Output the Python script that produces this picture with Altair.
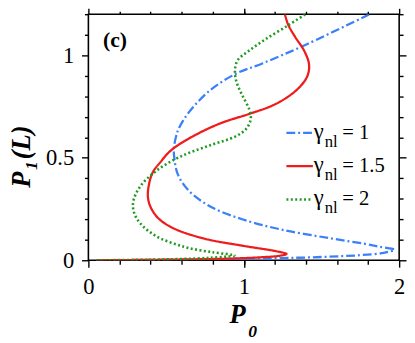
import altair as alt
import pandas as pd

# ---------------- data ----------------
x_domain = [0, 2]
y_domain = [0, 1.2]
x_major = [0, 1, 2]
x_minor = [0.2, 0.4, 0.6, 0.8, 1.0, 1.2, 1.4, 1.6, 1.8]
y_major = [0, 0.5, 1]
y_minor = [0.1, 0.2, 0.3, 0.4, 0.6, 0.7, 0.8, 0.9, 1.1, 1.2]

gamma_vals = ["1", "1.5", "2"]
colors = ["#3b80fb", "#ee1c1c", "#1f9a1f"]
dashes = [[9, 3, 2, 3], [1, 0], [2, 2.5]]
widths = [2.3, 2.3, 2.6]

blue_x = [0.05, 0.4, 0.8, 1.2, 1.5, 1.75, 1.9, 1.97, 1.88, 1.78, 1.55, 1.24, 0.99, 0.79,
          0.645, 0.575, 0.553, 0.55, 0.563, 0.58, 0.645, 0.785, 0.95, 1.12, 1.41, 1.81]
blue_y = [0.0, 0.002, 0.005, 0.010, 0.016, 0.025, 0.036, 0.052, 0.065, 0.08, 0.108, 0.15, 0.20, 0.26,
          0.34, 0.42, 0.50, 0.545, 0.60, 0.64, 0.72, 0.83, 0.91, 0.96, 1.055, 1.2]

red_x = [0.05, 0.5, 0.9, 1.12, 1.23, 1.275, 1.21, 1.0, 0.75, 0.55, 0.45, 0.40, 0.383, 0.39,
         0.415, 0.465, 0.53, 0.65, 0.84, 1.04, 1.17, 1.27, 1.36, 1.41, 1.42, 1.39, 1.33, 1.285, 1.265]
red_y = [0.0, 0.003, 0.008, 0.015, 0.022, 0.031, 0.044, 0.07, 0.105, 0.155, 0.205, 0.26, 0.31, 0.37,
         0.43, 0.48, 0.535, 0.595, 0.665, 0.715, 0.75, 0.79, 0.845, 0.90, 0.955, 1.02, 1.09, 1.15, 1.2]

green_x = [0.05, 0.4, 0.78, 0.94, 0.80, 0.615, 0.42, 0.31, 0.287, 0.33, 0.435, 0.59, 0.78, 0.95,
           1.02, 1.045, 1.035, 0.99, 0.955, 0.943, 0.96, 1.03, 1.14, 1.29, 1.397]
green_y = [0.0, 0.003, 0.012, 0.024, 0.039, 0.066, 0.125, 0.205, 0.277, 0.356, 0.435, 0.505, 0.56, 0.605,
           0.645, 0.69, 0.736, 0.805, 0.865, 0.92, 0.975, 1.02, 1.078, 1.148, 1.2]

series_x = [blue_x, red_x, green_x]
series_y = [blue_y, red_y, green_y]

FONT = "Liberation Serif"
W, H = 317, 251

xs = alt.Scale(domain=x_domain, nice=False, zero=False)
ys = alt.Scale(domain=y_domain, nice=False, zero=False)


def ax(orient, values, size, labels=False, **kw):
    return alt.Axis(orient=orient, values=values, tickSize=size, labels=labels, domain=False,
                    grid=False, ticks=True, tickColor="black", tickWidth=1.4, title="",
                    labelFlush=False, labelOverlap=False, labelBound=False, **kw)


frame_df = pd.DataFrame({"P0": x_domain, "P1": y_domain})


def axis_layer(xa, ya):
    return alt.Chart(frame_df).mark_point(opacity=0).encode(
        x=alt.X("P0:Q", scale=xs, axis=xa),
        y=alt.Y("P1:Q", scale=ys, axis=ya),
    )


lab = dict(labelFont=FONT, labelFontSize=23, labelColor="black")
layers = [
    axis_layer(ax("bottom", x_major, 7, True, labelPadding=9, format="~g", **lab),
               ax("left", y_major, 7, True, labelPadding=8, format="~g", **lab)),
    axis_layer(ax("bottom", x_minor, 4), ax("left", y_minor, 4)),
    axis_layer(ax("top", x_major, 6), ax("right", y_major, 7)),
    axis_layer(ax("top", x_minor, 3), ax("right", y_minor, 4)),
]

for g, xv, yv, c, d, w in zip(gamma_vals, series_x, series_y, colors, dashes, widths):
    df = pd.DataFrame({"P0": xv, "P1": yv, "idx": list(range(len(xv)))})
    layers.append(
        alt.Chart(df).mark_line(color=c, strokeDash=d, strokeWidth=w,
                                interpolate="catmull-rom", clip=True).encode(
            x=alt.X("P0:Q", scale=xs, axis=None),
            y=alt.Y("P1:Q", scale=ys, axis=None),
            order="idx:Q",
        )
    )


def txt(t, x, y, size, style="normal", weight="normal", angle=0, align="left"):
    return alt.Chart(pd.DataFrame({"t": [t]})).mark_text(
        align=align, baseline="alphabetic", font=FONT, fontSize=size, fontStyle=style,
        fontWeight=weight, angle=angle, color="black"
    ).encode(x=alt.value(x), y=alt.value(y), text="t:N")


# panel label
layers.append(txt("(c)", 15, 33, 22, weight="bold"))

# axis titles
layers.append(txt("P", 144, 315, 27, "italic", "bold"))
layers.append(txt("0", 163, 329, 18, "italic", "bold"))
layers.append(txt("P", -60, 177, 27, "italic", "bold", angle=270))
layers.append(txt("1", -52, 159, 18, "italic", "bold", angle=270))
layers.append(txt("(L)", -60, 148, 27, "italic", "bold", angle=270))

# legend
for i, (g, c, d, w) in enumerate(zip(gamma_vals, colors, dashes, widths)):
    yl = 121 + 34 * i
    layers.append(
        alt.Chart(pd.DataFrame({"s": [g]})).mark_rule(color=c, strokeDash=d, strokeWidth=w).encode(
            x=alt.value(202), x2=alt.value(229), y=alt.value(yl))
    )
    layers.append(txt("γ", 230, yl + 6, 23))
    layers.append(txt("nl", 241, yl + 14, 17))
    layers.append(txt("= " + g, 259, yl + 6, 21))

chart = alt.layer(*layers).resolve_axis(x="independent", y="independent").properties(
    width=W, height=H,
    autosize=alt.AutoSizeParams(type="none"),
    padding={"left": 82, "top": 3, "right": 8, "bottom": 79},
).configure_view(stroke="black", strokeWidth=1.6)

chart.save("out.html", embed_options={"renderer": "svg", "actions": False})
